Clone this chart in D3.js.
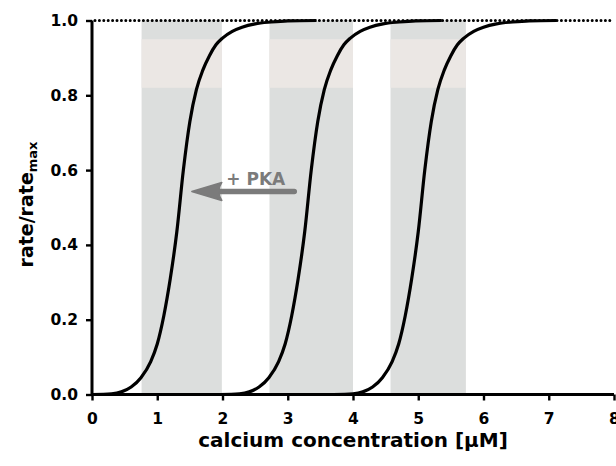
<!DOCTYPE html>
<html>
<head>
<meta charset="utf-8">
<script src="https://cdn.jsdelivr.net/npm/d3@7"></script>
<style>
  html, body { margin: 0; padding: 0; background: #fff; }
  svg { display: block; font-family: "DejaVu Sans", Verdana, sans-serif; }
</style>
</head>
<body>
<svg id="chart" width="616" height="466"></svg>
<script>
// ---- data ----
const xTicks = [0, 1, 2, 3, 4, 5, 6, 7, 8];
const yTicks = [0.0, 0.2, 0.4, 0.6, 0.8, 1.0];

// shaded regions (calcium range)
const bandStart = [0.76, 2.72, 4.575];
const bandEnd   = [1.99, 4.00, 5.73];
// lighter sub-band (rate range)
const subBandLow = 0.82;
const subBandHigh = 0.95;

// sigmoid curves: calcium values for each curve, sharing the rate values
const rate = [0, 0.002, 0.007, 0.02, 0.045, 0.088, 0.135, 0.21, 0.31, 0.435, 0.60, 0.73, 0.815, 0.868, 0.906, 0.935, 0.953, 0.971, 0.982, 0.991, 0.996, 0.999, 1.0];
const calcium1 = [0, 0.30, 0.45, 0.60, 0.75, 0.90, 1.00, 1.10, 1.20, 1.30, 1.40, 1.50, 1.60, 1.70, 1.80, 1.90, 2.00, 2.15, 2.30, 2.50, 2.75, 3.00, 3.44];
const calcium2 = [1.96, 2.26, 2.41, 2.56, 2.71, 2.86, 2.96, 3.06, 3.16, 3.26, 3.36, 3.46, 3.56, 3.66, 3.76, 3.86, 3.96, 4.11, 4.26, 4.46, 4.71, 4.96, 5.36];
const calcium3 = [3.70, 4.00, 4.15, 4.30, 4.45, 4.60, 4.70, 4.80, 4.90, 5.00, 5.10, 5.20, 5.30, 5.40, 5.50, 5.60, 5.70, 5.85, 6.00, 6.20, 6.45, 6.70, 7.12];
const curves = [calcium1, calcium2, calcium3];

// annotation
const arrowTail = [3.10, 0.543];
const arrowTip  = [1.53, 0.543];
const arrowLabel = "+ PKA";
const arrowLabelPos = [2.51, 0.56];

const xTitle = "calcium concentration [μM]";

// ---- drawing ----
const svg = d3.select("#chart");
const x = d3.scaleLinear().domain([0, 8]).range([92, 614]);
const y = d3.scaleLinear().domain([0, 1]).range([394.5, 20.5]);

const gray = "#dcdedd";
const beige = "#ebe7e4";

// bands
const bands = bandStart.map((s, i) => ({ s, e: bandEnd[i] }));
svg.append("g").selectAll("rect.band").data(bands).join("rect")
  .attr("x", d => x(d.s)).attr("width", d => x(d.e) - x(d.s))
  .attr("y", y(1)).attr("height", y(0) - y(1))
  .attr("fill", gray);
svg.append("g").selectAll("rect.sub").data(bands).join("rect")
  .attr("x", d => x(d.s)).attr("width", d => x(d.e) - x(d.s))
  .attr("y", y(subBandHigh)).attr("height", y(subBandLow) - y(subBandHigh))
  .attr("fill", beige);

// dotted line at 1.0
svg.append("line")
  .attr("x1", x(0) + 3).attr("x2", x(8))
  .attr("y1", y(1)).attr("y2", y(1))
  .attr("stroke", "#000").attr("stroke-width", 3)
  .attr("stroke-linecap", "round")
  .attr("stroke-dasharray", "0,4.4");

// curves
const line = d3.line()
  .x(d => x(d[0])).y(d => y(d[1]))
  .curve(d3.curveMonotoneX);
svg.append("g").selectAll("path.curve").data(curves).join("path")
  .attr("d", cs => line(cs.map((c, i) => [c, rate[i]])))
  .attr("fill", "none").attr("stroke", "#000")
  .attr("stroke-width", 3.2).attr("stroke-linejoin", "round");

// axes
const xAxis = d3.axisBottom(x).tickValues(xTicks).tickFormat(d3.format("d"))
  .tickSize(6).tickPadding(12);
const gx = svg.append("g").attr("transform", `translate(0,${y(0)})`).call(xAxis);
gx.select(".domain").attr("stroke-width", 3).attr("d", `M${x(0)},0H${x(8)}`);
gx.selectAll(".tick line").attr("stroke-width", 2.4);
gx.selectAll("text").attr("font-size", 15.5).attr("font-weight", "bold")
  .attr("fill", "#000").attr("font-family", "DejaVu Sans, sans-serif");

const yAxis = d3.axisLeft(y).tickValues(yTicks).tickFormat(d3.format(".1f"))
  .tickSize(6).tickPadding(8);
const gy = svg.append("g").attr("transform", `translate(${x(0)},0)`).call(yAxis);
gy.select(".domain").attr("stroke-width", 3).attr("d", `M0,${y(0)}V${y(1)}`);
gy.selectAll(".tick line").attr("stroke-width", 2.4);
gy.selectAll("text").attr("font-size", 15.5).attr("font-weight", "bold")
  .attr("fill", "#000").attr("font-family", "DejaVu Sans, sans-serif");

// axis titles
svg.append("text")
  .attr("x", (x(0) + x(8)) / 2).attr("y", 447)
  .attr("text-anchor", "middle")
  .attr("font-size", 20).attr("font-weight", "bold")
  .text(xTitle);

const yt = svg.append("text")
  .attr("transform", `translate(33,${(y(0) + y(1)) / 2 - 3}) rotate(-90)`)
  .attr("text-anchor", "middle")
  .attr("font-size", 19).attr("font-weight", "bold");
yt.append("tspan").text("rate/rate");
yt.append("tspan").attr("font-size", 13).attr("dy", 4).text("max");

// arrow annotation
const arrowColor = "#7b7b7b";
svg.append("line")
  .attr("x1", x(arrowTail[0])).attr("y1", y(arrowTail[1]))
  .attr("x2", x(arrowTip[0]) + 12).attr("y2", y(arrowTip[1]))
  .attr("stroke", arrowColor).attr("stroke-width", 5.5)
  .attr("stroke-linecap", "round");
const tx = x(arrowTip[0]), ty = y(arrowTip[1]);
svg.append("path")
  .attr("d", `M${tx},${ty} L${tx + 30},${ty - 9} Q${tx + 24},${ty} ${tx + 30},${ty + 9} Z`)
  .attr("fill", arrowColor).attr("stroke", arrowColor)
  .attr("stroke-width", 1.5).attr("stroke-linejoin", "round");
svg.append("text")
  .attr("x", x(arrowLabelPos[0])).attr("y", y(arrowLabelPos[1]))
  .attr("text-anchor", "middle")
  .attr("font-size", 17).attr("font-weight", "bold")
  .attr("fill", arrowColor)
  .text(arrowLabel);
</script>
</body>
</html>
